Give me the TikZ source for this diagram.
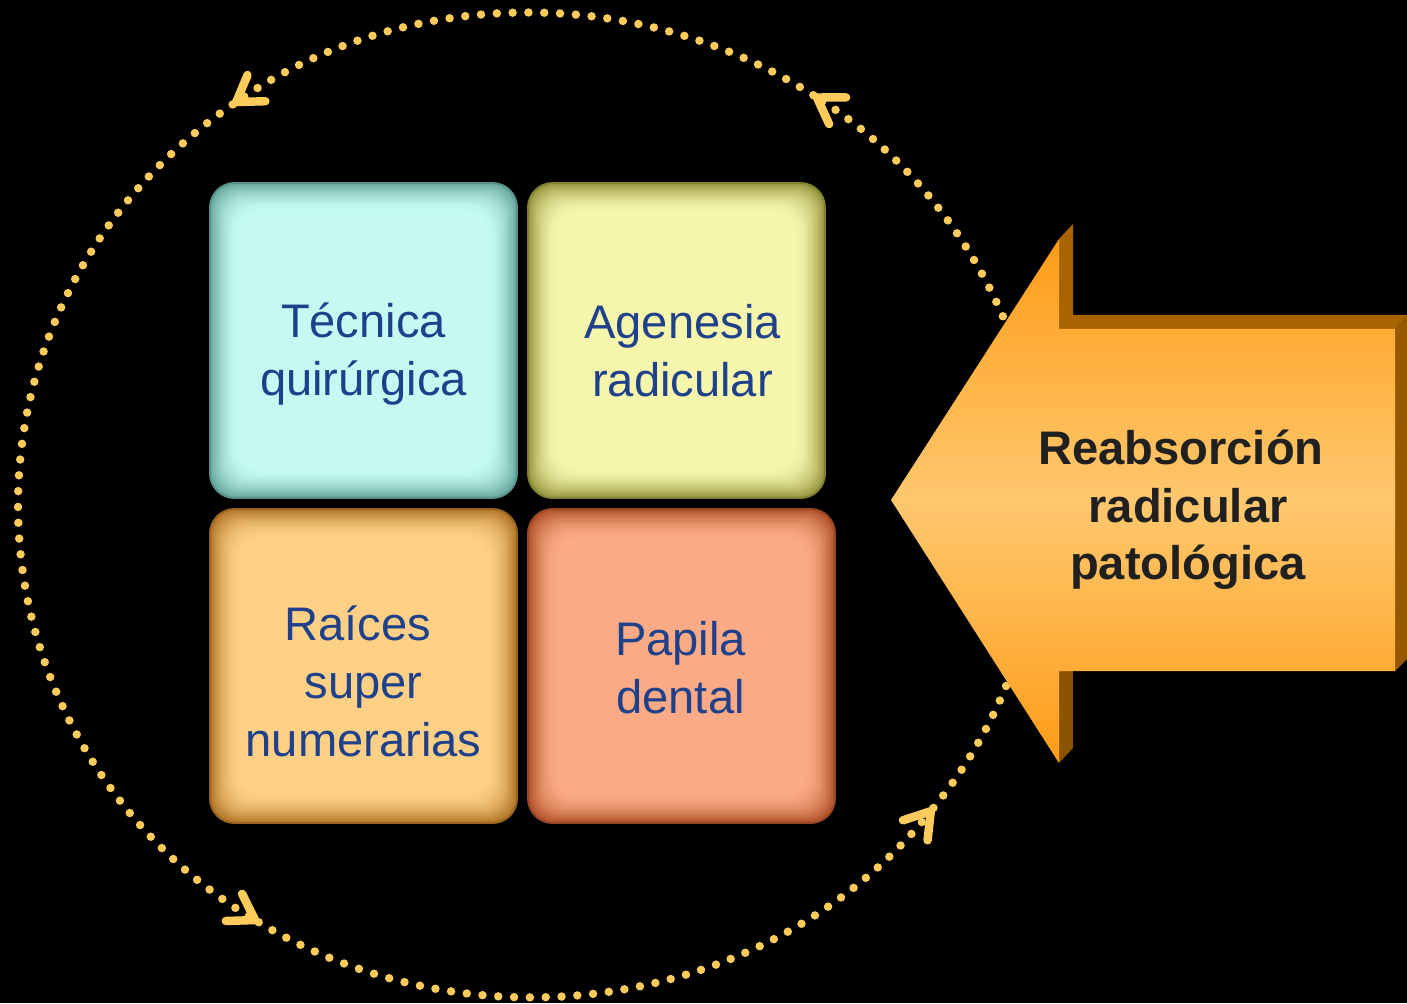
\documentclass[tikz,border=0pt]{standalone}
\usepackage{fontspec}
\setmainfont{Liberation Sans}
\usetikzlibrary{arrows.meta, calc}

\definecolor{ringgold}{RGB}{255,204,92}
\definecolor{tiletext}{RGB}{31,64,138}
\definecolor{arrowink}{RGB}{32,32,32}
\definecolor{cyanin}{RGB}{196,250,242}
\definecolor{cyanout}{RGB}{104,168,158}
\definecolor{limein}{RGB}{245,245,172}
\definecolor{limeout}{RGB}{150,150,62}
\definecolor{sandin}{RGB}{253,208,134}
\definecolor{sandout}{RGB}{178,118,40}
\definecolor{salmonin}{RGB}{250,170,132}
\definecolor{salmonout}{RGB}{176,82,42}
\definecolor{arroworange}{RGB}{255,156,24}
\definecolor{arrowlight}{RGB}{255,200,110}
\definecolor{arrowtop}{RGB}{168,100,0}
\definecolor{arrowside}{RGB}{150,88,0}
\definecolor{arrowlow}{RGB}{138,84,0}

\tikzset{
  ring/.style={draw=ringgold, line width=2.4pt, line cap=round, dash pattern=on 0pt off 4.5pt,
    -{Straight Barb[round, length=7pt, width=9pt]}},
  tile/.style 2 args={rounded corners=7pt, fill=#2, draw=#2!85!black, line width=0.5pt, inner sep=0pt,
    path picture={
      \foreach \k in {1,...,16}{
        \pgfmathtruncatemacro\mix{100*(1-\k/16)^2}
        \fill[#2!\mix!#1, rounded corners=7pt]
          ($(path picture bounding box.south west)+(\k*0.55pt,\k*0.55pt)$) rectangle
          ($(path picture bounding box.north east)-(\k*0.55pt,\k*0.55pt)$);
      }}},
  tilelabel/.style={align=center, text=tiletext, font=\fontsize{13.4}{16.5}\selectfont, inner sep=0pt},
  arrowlabel/.style={align=center, text=arrowink, font=\bfseries\fontsize{13.4}{16.3}\selectfont, inner sep=0pt}
}

\begin{document}
\begin{tikzpicture}[x=0.01cm, y=0.01cm]

  % --- Canvas (pixel units, origin bottom left) ---
  \fill[black] (0,0) rectangle (1407,1003);
  \useasboundingbox (0,0) rectangle (1407,1003);

  % --- Dotted ring: four arcs, counter-clockwise, one tip each ---
  \coordinate (ringc) at (530,498);
  \foreach \a/\b in {-38/56.4,56.4/125.5,125.5/238,238/322}{
    \draw[ring] ($(ringc)+(\a:512 and 492)$) arc[start angle=\a, end angle=\b, x radius=512, y radius=492];
  }

  % --- Four tiles ---
  \node[tile={cyanin}{cyanout}, minimum width=3.07cm, minimum height=3.15cm] (tecnica) at (363.5,662.5) {};
  \node[tile={limein}{limeout}, minimum width=2.97cm, minimum height=3.15cm] (agenesia) at (676.5,662.5) {};
  \node[tile={sandin}{sandout}, minimum width=3.07cm, minimum height=3.14cm] (raices) at (363.5,337) {};
  \node[tile={salmonin}{salmonout}, minimum width=3.07cm, minimum height=3.14cm] (papila) at (681.5,337) {};

  \node[tilelabel] (tecnica-txt) at ($(tecnica)+(0,-14)$) {Técnica\\quirúrgica};
  \node[tilelabel] (agenesia-txt) at ($(agenesia)+(6,-10)$) {Agenesia\\radicular};
  \node[tilelabel] (raices-txt) at ($(raices)+(0,-15)$) {Raíces\kern0.25em\\super\\numerarias};
  \node[tilelabel] (papila-txt) at ($(papila)+(-1,-2)$) {Papila\\dental};

  % --- Block arrow pointing into the ring (dark faces first) ---
  \fill[arrowtop] (1059,764) -- (1073,779) -- (1073,688) -- (1409,688) -- (1395,674) -- (1059,674) -- cycle;
  \fill[arrowside] (1395,674) -- (1409,688) -- (1409,346) -- (1395,332) -- cycle;
  \fill[arrowlow] (1059,332) -- (1073,332) -- (1073,255) -- (1059,240) -- cycle;
  \shade[top color=arroworange, bottom color=arroworange, middle color=arrowlight]
    (891,503) -- (1059,764) -- (1059,674) -- (1395,674) -- (1395,332) -- (1059,332) -- (1059,240) -- cycle;
  \node[arrowlabel] (reabsorcion) at (1188,493) {Reabsorción\kern0.3em\\radicular\\patológica};

\end{tikzpicture}
\end{document}
